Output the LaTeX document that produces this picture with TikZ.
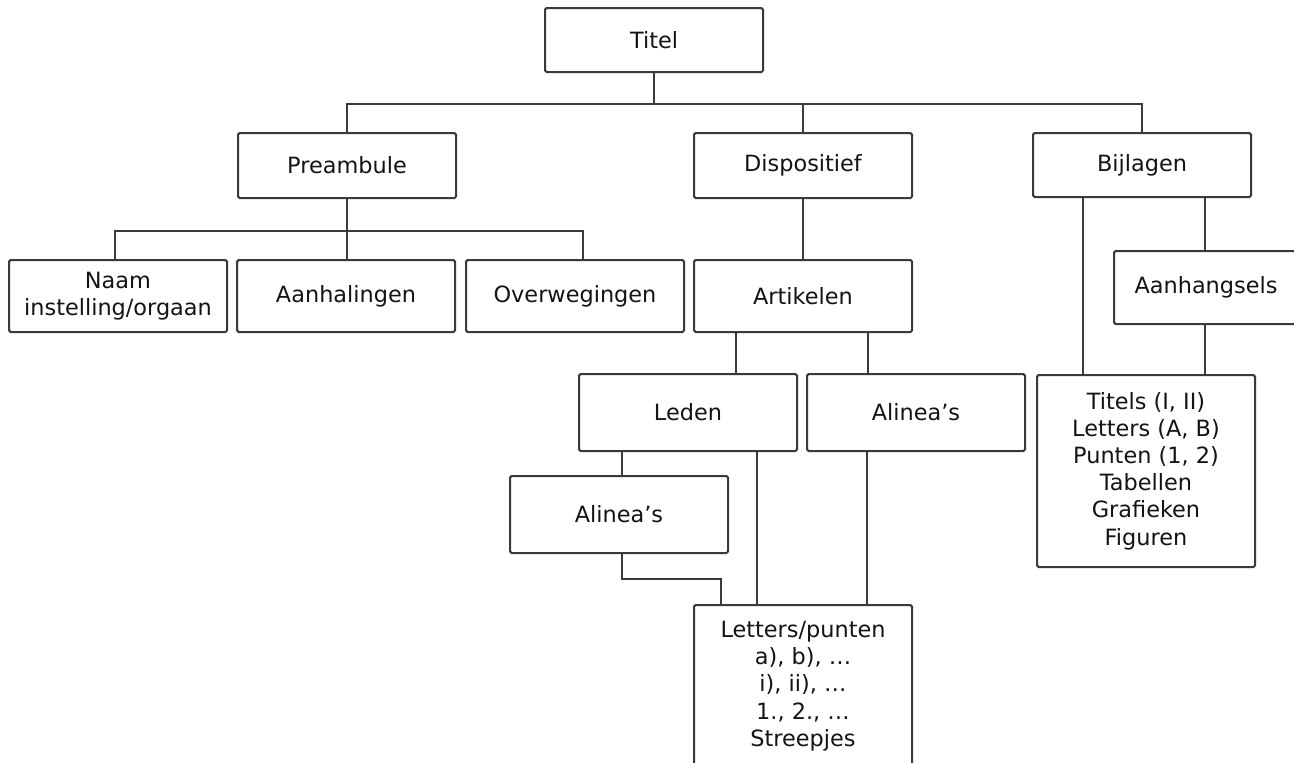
\documentclass[tikz,border=0pt]{standalone}
\usepackage{fontspec}
\setmainfont{DejaVu Sans}
\usetikzlibrary{calc}
\definecolor{linec}{HTML}{3A3A3A}
\definecolor{textc}{HTML}{141414}
\tikzset{
  box/.style={draw=linec, line width=1pt, rounded corners=0.8pt, fill=white,
    minimum width=108.5pt, inner sep=0pt, align=center, text=textc,
    font=\fontsize{11.2}{13.6}\selectfont},
  conn/.style={draw=linec, line width=1pt},
}
\begin{document}
\begin{tikzpicture}[x=0.5pt, y=-0.5pt]
\useasboundingbox (0,0) rectangle (1294,762);
\clip (0,0) rectangle (1294,762);
\fill[white] (0,0) rectangle (1294,762);

% nodes
\node[box, minimum height=32pt, minimum width=109pt] (titel) at (654,40) {Titel};
\node[box, minimum height=32.5pt, minimum width=109pt] (preambule) at (347,165.5) {Preambule};
\node[box, minimum height=32.5pt, minimum width=109pt] (dispositief) at (803,165.5) {Dispositief};
\node[box, minimum height=32pt, minimum width=109pt] (bijlagen) at (1142,165) {Bijlagen};
\node[box, minimum height=36pt, minimum width=109pt] (naam) at (118,296) {Naam\\instelling/orgaan};
\node[box, minimum height=36pt, minimum width=109pt] (aanhalingen) at (346,296) {Aanhalingen};
\node[box, minimum height=36pt, minimum width=109pt] (overwegingen) at (575,296) {Overwegingen};
\node[box, minimum height=36pt, minimum width=109pt] (artikelen) at (803,296) {Artikelen};
\node[box, minimum height=38.5pt, minimum width=109pt] (leden) at (688,412.5) {Leden};
\node[box, minimum height=38.5pt, minimum width=109pt] (alineaR) at (916,412.5) {Alinea’s};
\node[box, minimum height=38.5pt, minimum width=109pt] (alineaL) at (619,514.5) {Alinea’s};
\node[box, minimum height=81pt, minimum width=109pt] (letters) at (803,686) {Letters/punten\\a), b), …\\i), ii), …\\1., 2., …\\Streepjes};
\node[box, minimum height=36.5pt, minimum width=92pt] (aanhangsels) at (1206,287.5) {Aanhangsels};
\node[box, minimum height=96pt, minimum width=109pt] (titels) at (1146,471) {Titels (I, II)\\Letters (A, B)\\Punten (1, 2)\\Tabellen\\Grafieken\\Figuren};

% helper coordinates
\coordinate (bar1) at (654,104);
\coordinate (bar2) at (347,231);
\coordinate (xa) at (736,0);
\coordinate (xb) at (868,0);
\coordinate (xc) at (622,0);
\coordinate (xd) at (757,0);
\coordinate (xe) at (721,0);
\coordinate (xf) at (867,0);
\coordinate (xg) at (1083,0);
\coordinate (xh) at (1205,0);
\coordinate (jog) at (622,579);
\coordinate (xo) at (583,0);
\coordinate (xn) at (115,0);

% connectors
\draw[conn] (titel.south) -- (bar1);
\draw[conn] (preambule.north) |- (bar1) -| (bijlagen.north);
\draw[conn] (dispositief.north) -- (dispositief.north |- bar1);
\draw[conn] (preambule.south) -- (preambule.south |- aanhalingen.north);
\draw[conn] (naam.north -| xn) |- (bar2) -| (overwegingen.north -| xo);
\draw[conn] (dispositief.south) -- (artikelen.north);
\draw[conn] (artikelen.south -| xa) -- (leden.north -| xa);
\draw[conn] (artikelen.south -| xb) -- (alineaR.north -| xb);
\draw[conn] (leden.south -| xc) -- (alineaL.north -| xc);
\draw[conn] (leden.south -| xd) -- (letters.north -| xd);
\draw[conn] (alineaL.south -| xc) -- (jog) -| (letters.north -| xe);
\draw[conn] (alineaR.south -| xf) -- (letters.north -| xf);
\draw[conn] (bijlagen.south -| xg) -- (titels.north -| xg);
\draw[conn] (bijlagen.south -| xh) -- (aanhangsels.north -| xh);
\draw[conn] (aanhangsels.south -| xh) -- (titels.north -| xh);
\end{tikzpicture}
\end{document}
